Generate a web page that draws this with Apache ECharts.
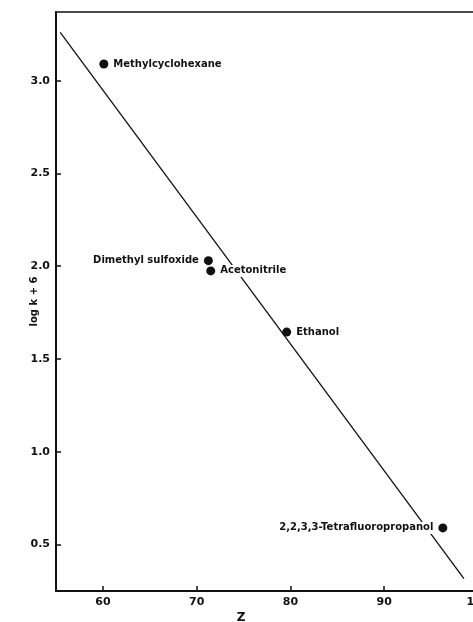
<!DOCTYPE html>
<html><head><meta charset="utf-8">
<script src="https://cdn.jsdelivr.net/npm/echarts@6/dist/echarts.min.js"></script>
<style>html,body{margin:0;padding:0;background:#fff}#c{width:473px;height:622px}</style>
</head><body><div id="c"></div>
<script>
const solvents = ["Methylcyclohexane","Dimethyl sulfoxide","Acetonitrile","Ethanol","2,2,3,3-Tetrafluoropropanol"];
const zValues = [60.1, 71.25, 71.5, 79.6, 96.25];
const logK6 = [3.09, 2.03, 1.975, 1.645, 0.59];
const labelSide = ["right","left","right","right","left"];
const fitLine = [[55.45, 3.26],[98.5, 0.317]];
const xTicks = [60,70,80,90,100];
const yTicks = [0.5,1.0,1.5,2.0,2.5,3.0];

const font = "'DejaVu Sans', 'Liberation Sans', sans-serif";
const chart = echarts.init(document.getElementById('c'), null, {renderer:'canvas'});
chart.setOption({
  animation:false,
  backgroundColor:'#fff',
  grid:{left:56, top:12, right:-5, bottom:31, outerBoundsMode:'none', containLabel:false,
    show:true, borderColor:'#111', borderWidth:1.5, backgroundColor:'transparent'},
  xAxis:{type:'value', min:55, max:100,
    name:'Z', nameLocation:'middle', nameGap:21, nameMoveOverlap:false,
    nameTextStyle:{fontFamily:font, fontWeight:'bold', fontSize:12, color:'#111', padding:[0,52,0,0]},
    axisLine:{lineStyle:{color:'#111', width:2}},
    axisTick:{inside:true, length:5, customValues:xTicks, lineStyle:{color:'#111', width:1.5}},
    axisLabel:{customValues:xTicks, margin:6, fontFamily:font, fontWeight:'bold', fontSize:11, color:'#111', formatter:v=>String(v)},
    splitLine:{show:false}},
  yAxis:{type:'value', min:0.25, max:3.37,
    name:'log k + 6', nameLocation:'middle', nameGap:17, nameRotate:90, nameMoveOverlap:false,
    nameTextStyle:{fontFamily:font, fontWeight:'bold', fontSize:10, color:'#111'},
    axisLine:{lineStyle:{color:'#111', width:2}},
    axisTick:{inside:true, length:5, customValues:yTicks, lineStyle:{color:'#111', width:1.5}},
    axisLabel:{customValues:yTicks, margin:6, fontFamily:font, fontWeight:'bold', fontSize:11, color:'#111', formatter:v=>v.toFixed(1)},
    splitLine:{show:false}},
  series:[
    {type:'line', data:fitLine, symbol:'none', lineStyle:{color:'#111', width:1.3}, z:1},
    {type:'scatter', z:3, symbolSize:9, itemStyle:{color:'#111', opacity:1},
      data: zValues.map((x,i)=>({value:[x, logK6[i]],
        label:{show:true, position:labelSide[i], formatter:solvents[i], distance:3,
          fontFamily:font, fontWeight:'bold', fontSize:10, color:'#111',
          backgroundColor:'#fff', padding:[1,2,1,2]}}))}
  ]
});
</script></body></html>
